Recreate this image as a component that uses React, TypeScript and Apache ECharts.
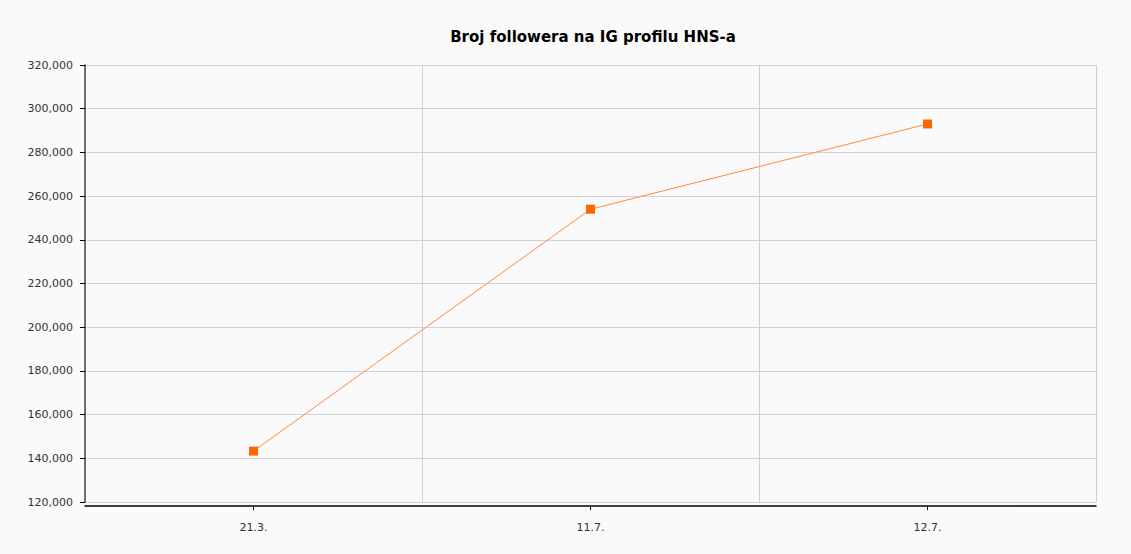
import React, { useEffect, useRef } from "react";
import * as echarts from "echarts";

const titleText = "Broj followera na IG profilu HNS-a";
const categories = ["21.3.", "11.7.", "12.7."];
const followers = [143300, 254000, 293000];

export default function App() {
  const ref = useRef<HTMLDivElement>(null);
  useEffect(() => {
    const chart = echarts.init(ref.current!, null, { renderer: "svg" });
    chart.setOption({
      animation: false,
      backgroundColor: "#fafafa",
      title: {
        text: titleText,
        left: 588,
        textAlign: "center",
        top: 24,
        textStyle: { fontFamily: "DejaVu Sans", fontSize: 15, fontWeight: "bold", color: "#000" },
      },
      grid: { left: 85, right: 35, top: 65, bottom: 52 },
      xAxis: {
        type: "category",
        data: categories,
        boundaryGap: true,
        offset: 4,
        axisLine: { lineStyle: { color: "#000", width: 1.5 } },
        axisTick: { show: true, alignWithLabel: true, length: 4, lineStyle: { color: "#000", width: 1 } },
        axisLabel: { fontFamily: "DejaVu Sans", fontSize: 11, color: "#333", margin: 16 },
        splitLine: { show: true, lineStyle: { color: "#cfcfcf", width: 1 } },
      },
      yAxis: {
        type: "value",
        min: 120000,
        max: 320000,
        interval: 20000,
        axisLine: { show: true, lineStyle: { color: "#444", width: 1.5 } },
        axisTick: { show: true, length: 5, lineStyle: { color: "#000" } },
        axisLabel: {
          fontFamily: "DejaVu Sans",
          fontSize: 11,
          color: "#333",
          margin: 12,
          formatter: (v: number) => v.toLocaleString("en-US"),
        },
        splitLine: { show: true, lineStyle: { color: "#d4d4d4", width: 1 } },
      },
      series: [
        {
          type: "line",
          data: followers,
          symbol: "rect",
          symbolSize: 9,
          itemStyle: { color: "#ff6600" },
          lineStyle: { color: "#ff8a3d", width: 1 },
        },
      ],
    });
    return () => chart.dispose();
  }, []);
  return (
    <div
      ref={ref}
      style={{ position: "fixed", left: 0, top: 0, width: 1131, height: 554 }}
    />
  );
}
